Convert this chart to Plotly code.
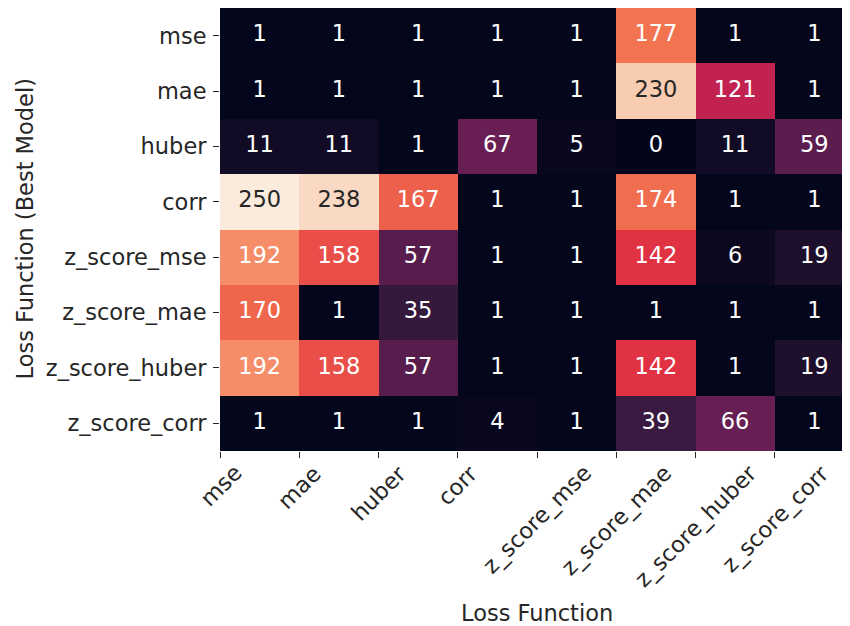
import plotly.graph_objects as go

labels = ["mse", "mae", "huber", "corr", "z_score_mse", "z_score_mae", "z_score_huber", "z_score_corr"]
values = [
    [1, 1, 1, 1, 1, 177, 1, 1],
    [1, 1, 1, 1, 1, 230, 121, 1],
    [11, 11, 1, 67, 5, 0, 11, 59],
    [250, 238, 167, 1, 1, 174, 1, 1],
    [192, 158, 57, 1, 1, 142, 6, 19],
    [170, 1, 35, 1, 1, 1, 1, 1],
    [192, 158, 57, 1, 1, 142, 1, 19],
    [1, 1, 1, 4, 1, 39, 66, 1],
]
x_title = "Loss Function"
y_title = "Loss Function (Best Model)"

rocket = [
    (0.0, "#03051a"), (1 / 7, "#35193e"), (2 / 7, "#701f57"), (3 / 7, "#ad1759"),
    (4 / 7, "#e13342"), (5 / 7, "#f37651"), (6 / 7, "#f6b48f"), (1.0, "#faebdd"),
]

def hex2rgb(h):
    return [int(h[i:i + 2], 16) / 255 for i in (1, 3, 5)]

def cmap(t):
    for (a, ca), (b, cb) in zip(rocket[:-1], rocket[1:]):
        if t <= b:
            f = (t - a) / (b - a) if b > a else 0
            A, B = hex2rgb(ca), hex2rgb(cb)
            return [A[i] + f * (B[i] - A[i]) for i in range(3)]
    return hex2rgb(rocket[-1][1])

def lum(rgb):
    c = [v / 12.92 if v <= 0.03928 else ((v + 0.055) / 1.055) ** 2.4 for v in rgb]
    return 0.2126 * c[0] + 0.7152 * c[1] + 0.0722 * c[2]

vmin = min(min(r) for r in values)
vmax = max(max(r) for r in values)

n = len(labels)
xs, ys, txt, cols = [], [], [], []
for i in range(n):
    for j in range(n):
        v = values[i][j]
        xs.append(j)
        ys.append(i)
        txt.append(str(v))
        cols.append("#262626" if lum(cmap((v - vmin) / (vmax - vmin))) > 0.408 else "#ffffff")

FONT = "DejaVu Sans"
FS = 22.5

fig = go.Figure()
fig.add_trace(go.Heatmap(
    z=values, x=list(range(n)), y=list(range(n)),
    colorscale=[[p, c] for p, c in rocket], zmin=vmin, zmax=vmax,
    showscale=False, hoverinfo="skip", xgap=0, ygap=0,
))
fig.add_trace(go.Scatter(
    x=xs, y=ys, mode="text", text=txt,
    textfont=dict(family=FONT, size=FS, color=cols),
    hoverinfo="skip", showlegend=False,
))

annotations = []
for j, lab in enumerate(labels):
    annotations.append(dict(
        x=j - 0.5, xref="x", y=0, yref="paper", text=lab, showarrow=False,
        textangle=-45, xanchor="center", yanchor="top", yshift=-6,
        font=dict(family=FONT, size=FS, color="#262626"),
    ))
annotations.append(dict(
    x=0.5, xref="paper", y=0, yref="paper", text=x_title, showarrow=False,
    xanchor="center", yanchor="middle", yshift=-162,
    font=dict(family=FONT, size=FS, color="#262626"),
))
annotations.append(dict(
    x=0, xref="paper", y=0.5, yref="paper", text=y_title, showarrow=False,
    textangle=-90, xanchor="center", yanchor="middle", xshift=-196,
    font=dict(family=FONT, size=FS, color="#262626"),
))

fig.update_layout(
    width=850, height=626,
    margin=dict(l=212, r=4, t=0, b=183, pad=0, autoexpand=False),
    paper_bgcolor="white", plot_bgcolor="white",
    font=dict(family=FONT, size=FS, color="#262626"),
    annotations=annotations,
    showlegend=False,
)
fig.update_xaxes(
    range=[-0.5, n - 0.5], tickvals=[j - 0.5 for j in range(n)], ticktext=[""] * n,
    ticks="outside", ticklen=6, tickwidth=1.2, tickcolor="#262626",
    showgrid=False, zeroline=False, showline=False, fixedrange=True, automargin=False,
)
fig.update_yaxes(
    range=[n - 0.5, -0.5], tickvals=list(range(n)), ticktext=labels,
    ticks="outside", ticklen=6, tickwidth=1.2, tickcolor="#262626",
    showgrid=False, zeroline=False, showline=False, fixedrange=True, automargin=False,
    ticklabelstandoff=2,
    tickfont=dict(family=FONT, size=FS, color="#262626"),
)

fig.write_html("out.html")
